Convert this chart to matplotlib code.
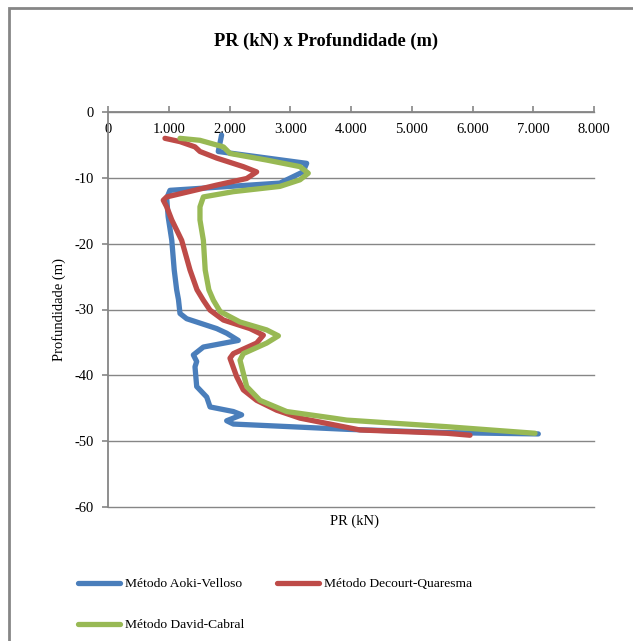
import matplotlib
matplotlib.use("Agg")
import matplotlib.pyplot as plt
from matplotlib.ticker import FuncFormatter, MultipleLocator
from matplotlib.patches import Rectangle

plt.rcParams["font.family"] = ["Liberation Serif", "DejaVu Serif"]
plt.rcParams["axes.unicode_minus"] = False

# Aoki-Velloso
aoki_prof = [-3.5, -6.0, -7.8, -9.1, -10.8, -11.9, -13.1, -15.9, -19.5, -24.0, -27.0,
             -28.5, -30.6, -31.4, -32.9, -33.6, -34.7, -35.7, -36.9, -37.9, -38.7,
             -41.7, -43.3, -44.8, -45.5, -46.0, -46.9, -47.4, -48.2, -48.7, -48.9]
aoki_pr = [1870, 1815, 3270, 3210, 2830, 1020, 966, 990, 1050, 1090, 1130,
           1160, 1185, 1295, 1790, 1953, 2145, 1570, 1405, 1460, 1432,
           1460, 1625, 1680, 2063, 2200, 1953, 2063, 3930, 5575, 7083]

# Decourt-Quaresma
decourt_prof = [-4.0, -4.5, -5.3, -6.0, -7.0, -8.3, -9.1, -10.1, -11.1, -12.9, -13.4,
                -14.4, -16.4, -19.5, -24.0, -27.0, -28.6, -30.1, -31.6, -32.9, -33.9,
                -35.1, -36.7, -37.4, -40.2, -42.2, -43.8, -45.3, -46.5, -48.3, -48.8, -49.1]
decourt_pr = [938, 1185, 1432, 1514, 1790, 2227, 2447, 2283, 1790, 966, 910,
              966, 1050, 1213, 1350, 1465, 1570, 1680, 1900, 2337, 2557,
              2447, 2063, 2008, 2118, 2227, 2447, 2777, 3160, 4148, 5575, 5959]

# David-Cabral
david_prof = [-4.0, -4.3, -5.3, -6.3, -7.3, -8.3, -9.3, -10.3, -11.3, -12.1, -12.9,
              -14.4, -16.4, -19.5, -24.0, -27.0, -28.6, -30.3, -31.9, -33.1, -34.0,
              -35.1, -36.7, -37.7, -41.7, -43.8, -45.5, -46.5, -46.8, -47.8, -48.8]
david_pr = [1185, 1514, 1900, 2008, 2612, 3160, 3297, 3160, 2830, 2063, 1570,
            1514, 1514, 1570, 1600, 1660, 1735, 1845, 2173, 2612, 2805,
            2612, 2227, 2173, 2283, 2502, 2942, 3710, 3930, 5575, 7029]

cinza = "#868686"

fig = plt.figure(figsize=(6.33, 6.41), dpi=100)
ax = fig.add_axes([108 / 633, 1 - 507 / 641, 486 / 633, 395 / 641])

# moldura do gráfico
fig.patches.append(Rectangle((9 / 633, -0.2), 2.0, 1 - 8 / 641 + 0.2,
                             transform=fig.transFigure, fill=False,
                             edgecolor=cinza, linewidth=2.0))

estilo = dict(linewidth=3.8, solid_capstyle="round", solid_joinstyle="round")
l1, = ax.plot(aoki_pr, aoki_prof, color="#4A7EBB", label="Método Aoki-Velloso", **estilo)
l2, = ax.plot(decourt_pr, decourt_prof, color="#BE4B48", label="Método Decourt-Quaresma", **estilo)
l3, = ax.plot(david_pr, david_prof, color="#98B954", label="Método David-Cabral", **estilo)

ax.set_xlim(0, 8000)
ax.set_ylim(-60, 0)
ax.xaxis.set_major_locator(MultipleLocator(1000))
ax.yaxis.set_major_locator(MultipleLocator(10))
ax.xaxis.set_major_formatter(FuncFormatter(lambda v, p: f"{int(v):,}".replace(",", ".")))
ax.yaxis.set_major_formatter(FuncFormatter(lambda v, p: f"{int(v)}"))

ax.grid(axis="y", color=cinza, linewidth=1.0)
for g in ax.yaxis.get_gridlines():
    g.set_clip_on(False)
ax.set_axisbelow(True)
for s in ["right", "bottom"]:
    ax.spines[s].set_visible(False)
for s in ["top", "left"]:
    ax.spines[s].set_color(cinza)
    ax.spines[s].set_linewidth(1.3)

ax.tick_params(axis="x", top=True, bottom=False, labeltop=True, labelbottom=False,
               direction="out", length=4, color=cinza, width=1.2, pad=-21, labelsize=10.5)
ax.tick_params(axis="y", direction="out", length=4, color=cinza, width=1.2,
               pad=6, labelsize=10.5)

ax.set_ylabel("Profundidade (m)", fontsize=10.5, labelpad=6)
fig.text(354 / 633, 1 - 521 / 641, "PR (kN)", ha="center", va="center", fontsize=10.5)
fig.text(326 / 633, 1 - 41 / 641, "PR (kN) x Profundidade (m)", ha="center", va="center",
         fontsize=13.2, fontweight="bold")

fig.legend([l1, l3, l2], [l1.get_label(), l3.get_label(), l2.get_label()],
           ncol=2, loc="upper left", bbox_to_anchor=(78 / 633, 1 - 578 / 641),
           frameon=False, fontsize=9.7, handlelength=3.1, handletextpad=0.4,
           columnspacing=2.4, labelspacing=2.12, borderaxespad=0, borderpad=0)

fig.savefig("out.png", dpi=100)
